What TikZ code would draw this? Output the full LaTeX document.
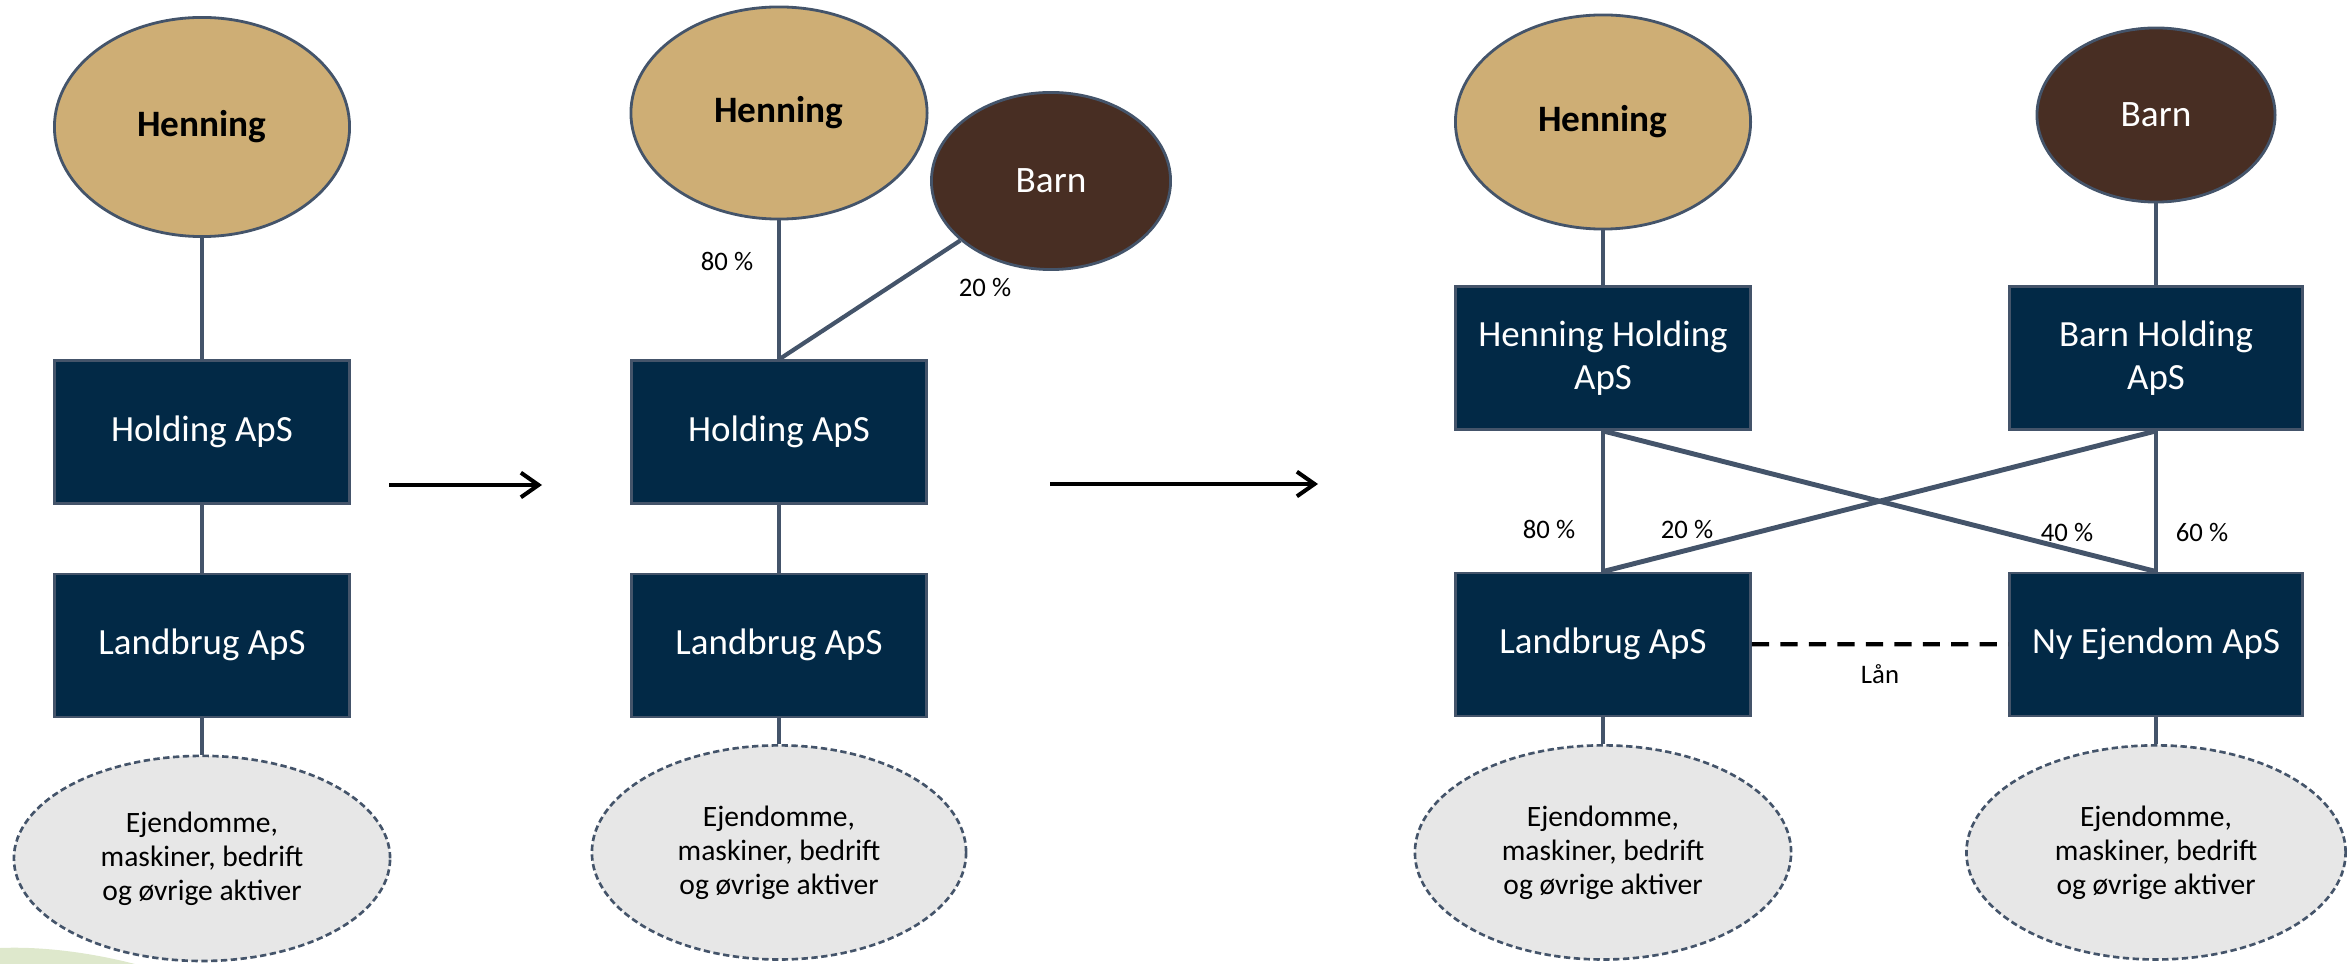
\documentclass[tikz,border=0pt]{standalone}
\usepackage{fontspec}
\setmainfont{Carlito}
\usepackage{tikz}
\usetikzlibrary{shapes.geometric,arrows.meta}
\definecolor{hentan}{RGB}{206,174,117}
\definecolor{barnbrown}{RGB}{72,46,35}
\definecolor{apsnavy}{RGB}{2,41,70}
\definecolor{edgeslate}{RGB}{68,84,106}
\definecolor{assetgrey}{RGB}{231,231,231}
\definecolor{swoosh}{RGB}{222,232,204}
\tikzstyle{owner} = [ellipse, draw=edgeslate, line width=0.8pt, fill=hentan, inner sep=0pt, font=\fontsize{10.6}{12.7}\selectfont\bfseries]
\tikzstyle{child} = [ellipse, draw=edgeslate, line width=0.8pt, fill=barnbrown, text=white, inner sep=0pt, font=\fontsize{10.6}{12.7}\selectfont]
\tikzstyle{company} = [rectangle, minimum width=2.95cm, minimum height=1.43cm, draw=edgeslate, line width=0.7pt, fill=apsnavy, text=white, align=center, font=\fontsize{10.5}{12.3}\selectfont]
\tikzstyle{assets} = [ellipse, minimum width=3.76cm, minimum height=2.1cm, draw=edgeslate, dash pattern=on 1.8pt off 1pt, line width=0.75pt, fill=assetgrey, align=center, font=\fontsize{8.4}{9.7}\selectfont]
\tikzstyle{link} = [draw=edgeslate, line width=1pt]
\tikzstyle{pct} = [font=\fontsize{7.6}{9}\selectfont]
\tikzstyle{arrow} = [line width=1.15pt, -{Straight Barb[length=5pt,width=7pt]}]
\tikzstyle{loan} = [line width=1.2pt, dash pattern=on 4.9pt off 3.2pt]

\begin{document}
\begin{tikzpicture}[x=0.01cm, y=-0.01cm, node distance = 2.13cm]
\useasboundingbox (0,0) rectangle (2349,964);

\fill[swoosh] (0,948) .. controls (50,946) and (100,955) .. (135,964) -- (0,964) -- cycle;

% before
\node(hen1) [owner, minimum width=2.95cm, minimum height=2.19cm] at (202,127) {Henning};
\node(hold1) [company, below of = hen1, yshift=-0.92cm] {Holding ApS};
\node(land1) [company, below of = hold1] {Landbrug ApS};
\node(ejd1) [assets, below of = land1, minimum height=2.05cm] {Ejendomme,\\ maskiner, bedrift\\ og øvrige aktiver};

\draw [link] (hen1) -- (hold1);
\draw [link] (hold1) -- (land1);
\draw [link] (land1) -- (ejd1);

\coordinate (a1s) at (389,485);
\coordinate (a1e) at (542,485);
\draw [arrow] (a1s) -- (a1e);

% barn comes in
\node(hen2) [owner, minimum width=2.96cm, minimum height=2.12cm] at (779,113) {Henning};
\node(barn2) [child, minimum width=2.39cm, minimum height=1.77cm] at (1051,181) {Barn};
\node(hold2) [company, below of = hen2, yshift=-1.06cm] {Holding ApS};
\node(land2) [company, below of = hold2] {Landbrug ApS};
\node(ejd2) [assets, below of = land2, yshift=0.06cm, minimum width=3.74cm, minimum height=2.14cm] {Ejendomme,\\ maskiner, bedrift\\ og øvrige aktiver};

\draw [link] (hen2) -- (hold2.north);
\draw [link, line width=1.2pt] (barn2) -- (hold2.north);
\draw [link] (hold2) -- (land2);
\draw [link] (land2) -- (ejd2);
\node(p80a) [pct] at (727,261) {80 \%};
\node(p20a) [pct] at (985,287) {20 \%};

\coordinate (a2s) at (1050,484);
\coordinate (a2e) at (1318,484);
\draw [arrow] (a2s) -- (a2e);

% after
\node(hen3) [owner, minimum width=2.95cm, minimum height=2.14cm] at (1603,122) {Henning};
\node(barn4) [child, minimum width=2.38cm, minimum height=1.74cm] at (2156,115) {Barn};
\node(hh3) [company, below of = hen3, yshift=-0.23cm] {Henning Holding\\ ApS};
\node(bh4) [company, below of = barn4, yshift=-0.30cm, minimum width=2.93cm] {Barn Holding\\ ApS};
\node(land3) [company, below of = hh3, yshift=-0.73cm] {Landbrug ApS};
\node(ny4) [company, below of = bh4, yshift=-0.73cm, minimum width=2.93cm] {Ny Ejendom ApS};
\node(ejd3) [assets, below of = land3, yshift=0.05cm, minimum height=2.14cm] {Ejendomme,\\ maskiner, bedrift\\ og øvrige aktiver};
\node(ejd4) [assets, below of = ny4, yshift=0.05cm, minimum width=3.79cm, minimum height=2.14cm] {Ejendomme,\\ maskiner, bedrift\\ og øvrige aktiver};

\draw [link] (hen3) -- (hh3);
\draw [link] (barn4) -- (bh4);
\draw [link] (hh3.south) -- (land3.north);
\draw [link] (bh4.south) -- (ny4.north);
\draw [link, line width=1.4pt] (hh3.south) -- (ny4.north);
\draw [link, line width=1.4pt] (bh4.south) -- (land3.north);
\draw [link] (land3) -- (ejd3);
\draw [link] (ny4) -- (ejd4);
\draw [loan] (land3.east) -- node[pct, yshift=-0.3cm]{Lån} (ny4.west);

\node(p80b) [pct] at (1549,529) {80 \%};
\node(p20b) [pct] at (1687,529) {20 \%};
\node(p40b) [pct] at (2067,532) {40 \%};
\node(p60b) [pct] at (2202,532) {60 \%};

\end{tikzpicture}
\end{document}
